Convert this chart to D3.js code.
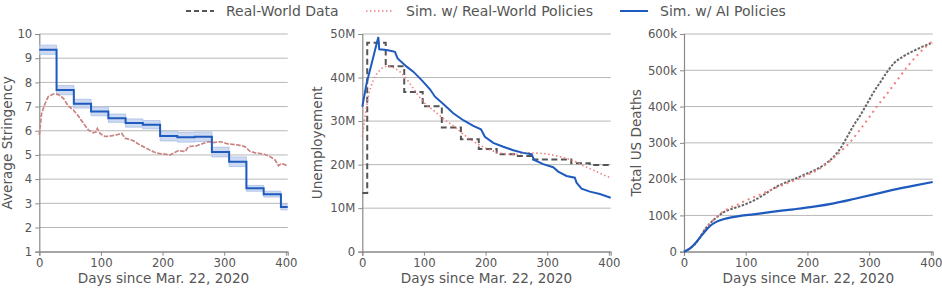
<!DOCTYPE html>
<html><head><meta charset="utf-8">
<script src="https://cdn.jsdelivr.net/npm/d3@7"></script>
<style>body{margin:0;background:#fff}svg{display:block}text{font-family:"DejaVu Sans",sans-serif}</style>
</head><body><svg id="c" width="942" height="288"></svg>
<script>
// ---------- data ----------
const xTicks = [0, 100, 200, 300, 400];
const stringTicks = [1,2,3,4,5,6,7,8,9,10];
const unempTicks = [0,10,20,30,40,50];
const deathTicks = [0,100,200,300,400,500,600];

// Panel 1: AI stringency steps [startDay, value]
const aiStringency = [[0,9.35],[28,7.68],[56,7.12],[84,6.80],[112,6.52],[140,6.32],[168,6.25],[196,5.78],[224,5.73],[252,5.75],[280,5.12],[308,4.72],[336,3.62],[364,3.38],[392,2.85],[403,2.85]];
const aiStringencyBand = [0.19,0.19,0.18,0.18,0.17,0.17,0.17,0.2,0.2,0.2,0.2,0.2,0.12,0.12,0.12,0.12];
const realStringency = [[0,5.83],[3.8,6.72],[9.3,7.13],[14.7,7.41],[22.8,7.52],[30.9,7.50],[39,7.34],[47.1,7.02],[55.2,6.86],[63.4,6.61],[71.5,6.31],[79.6,6.03],[87.7,5.92],[92,5.95],[94.2,6.1],[98.5,5.89],[106.7,5.76],[114.8,5.78],[125.6,5.83],[133.7,5.89],[139.1,5.69],[152.6,5.59],[160.8,5.45],[168.9,5.34],[179.7,5.20],[190.5,5.07],[201.3,5.04],[212.2,5.0],[217.6,5.07],[225.7,5.18],[236.5,5.14],[241.9,5.34],[255.5,5.38],[266.3,5.48],[274.4,5.55],[282.5,5.51],[293.3,5.55],[306.9,5.45],[320.4,5.42],[333.9,5.34],[342.1,5.14],[352.9,5.07],[363.7,5.04],[374.5,4.93],[382.6,4.79],[388,4.56],[393.4,4.65],[401.6,4.56]];

// Panel 2: unemployment (millions)
const realUnemp = [[0,13.5],[8,48.0],[38,42.6],[68,36.7],[98,33.4],[129,28.5],[160,25.8],[189,23.6],[218,22.4],[249,22.0],[277,21.2],[339,20.3],[369,19.9],[403,19.9]];
const simRealUnemp = [[0,26.4],[4.4,31.0],[9.8,35.6],[17.9,39.4],[28.7,41.7],[39.5,42.6],[53,42.1],[66.5,40.6],[82.7,37.5],[99,34.45],[115.2,32.5],[131.4,30.6],[153,28.3],[169.2,26.4],[185.4,24.9],[201.6,23.7],[223.3,22.7],[244.9,22.35],[266.5,22.7],[288.1,22.6],[301.6,22.4],[320.5,21.8],[339.5,21.06],[358.4,19.76],[380,18.4],[398.9,17.2],[403,17.0]];
const aiUnemp = [[0,33.3],[7,38.7],[15.2,43.2],[26,49.3],[27.5,46.5],[39.5,46.3],[53,45.9],[57.3,44.4],[72,42.5],[82.7,41.35],[96.3,39.4],[109.8,37.3],[117.9,35.6],[131.4,33.9],[147.6,31.8],[163.8,30.2],[180,28.9],[192.5,28.1],[198.9,26.4],[212.4,25.0],[228.7,24.1],[244.9,23.3],[261,22.7],[274.6,22.4],[278.9,21.06],[293.5,20.1],[309.7,19.4],[317.8,18.4],[331.3,17.4],[344.8,17.0],[347.6,15.85],[355.7,14.5],[369.2,13.8],[385.4,13.25],[403,12.4]];

// Panel 3: total deaths (thousands)
const realDeaths = [[0,0],[9.7,9],[17.9,21],[26,40],[34.1,62],[42.2,78],[53,95],[63.9,108.6],[80.2,119.6],[96.4,128.8],[112.7,140.7],[129,156.4],[145.2,174.7],[161.5,188.5],[177.7,199.5],[194,211.5],[210.3,223.4],[226.5,239],[242.8,262],[253.6,285],[264.5,317],[275.3,349.3],[286.1,376.8],[297,409],[307.8,441],[318.7,468.7],[329.5,496.3],[340.3,519.3],[356.6,539.5],[372.9,554.2],[389.1,567],[403,576]];
const simRealDeaths = [[0,0],[9.7,9],[17.9,21],[26,40],[34.1,60],[53,96.6],[69.3,116.9],[85.6,128.8],[101.9,142.6],[118.1,153.6],[134.4,165.6],[150.6,177.5],[166.9,188.5],[183.2,199.5],[199.4,211.5],[221.1,229.9],[237.4,251],[253.6,275.8],[269.9,303.3],[280.7,326.3],[297,363],[313.2,401.6],[329.5,436.6],[345.8,473.3],[362,510],[378.3,542.2],[389.1,560.6],[403,581]];
const aiDeaths = [[0,0],[9.7,9],[20.6,27.7],[31.4,50.7],[42.2,70.9],[53,82.9],[69.3,92],[91,98.5],[112.7,103.1],[145.2,110.4],[177.7,116.9],[210.3,124.2],[242.8,133.4],[275.3,145.3],[307.8,158],[340.3,171],[372.9,182],[403,192]];

const legendLabels = ["Real-World Data", "Sim. w/ Real-World Policies", "Sim. w/ AI Policies"];

// ---------- style ----------
const C = {text:"#555", grid:"#b8b8b8", spine:"#8a8a8a", blue:"#1f5bbf", band:"#c4d4ee", bandEdge:"#a9bfe4", red:"#f08080", gray:"#555"};

const svg = d3.select("#c");
const plotTop = 34, plotBottom = 251.7;

const panels = [
  {x0:39.3, x1:287.7, dom:[1,10], ticks:stringTicks, fmt:d=>d, label:"Average Stringency", lx:12},
  {x0:362.3, x1:610.7, dom:[0,50], ticks:unempTicks, fmt:d=>d===0?"0":d+"M", label:"Unemployement", lx:322},
  {x0:684, x1:932.7, dom:[0,600], ticks:deathTicks, fmt:d=>d===0?"0":d+"k", label:"Total US Deaths", lx:641}
];

panels.forEach((p,i)=>{
  p.x = d3.scaleLinear().domain([0,403]).range([p.x0,p.x1]);
  p.y = d3.scaleLinear().domain(p.dom).range([plotBottom,plotTop]);
  const g = svg.append("g");
  g.selectAll("line.grid").data(p.ticks).join("line")
    .attr("x1",p.x0).attr("x2",p.x1).attr("y1",d=>p.y(d)).attr("y2",d=>p.y(d))
    .attr("stroke",C.grid).attr("stroke-width",1);
  const ya = g.append("g").attr("transform",`translate(${p.x0},0)`)
    .call(d3.axisLeft(p.y).tickValues(p.ticks).tickFormat(p.fmt).tickSize(4).tickPadding(3));
  const xa = g.append("g").attr("transform",`translate(0,${plotBottom})`)
    .call(d3.axisBottom(p.x).tickValues(xTicks).tickSize(4).tickPadding(3));
  [ya,xa].forEach(a=>{
    a.select(".domain").attr("stroke",C.spine).attr("stroke-width",1.2);
    a.selectAll(".tick line").attr("stroke",C.spine);
    a.selectAll("text").attr("fill",C.text).style("font-size","11.7px").style("font-family","DejaVu Sans");
  });
  g.append("text").attr("x",(p.x0+p.x1)/2).attr("y",283).attr("text-anchor","middle")
    .attr("fill",C.text).style("font-size","13.6px").text("Days since Mar. 22, 2020");
  g.append("text").attr("transform",`translate(${p.lx},${(plotTop+plotBottom)/2}) rotate(-90)`).attr("text-anchor","middle")
    .attr("fill",C.text).style("font-size","13.6px").text(p.label);
  p.g = g;
});

function line(p, curve){ return d3.line().x(d=>p.x(d[0])).y(d=>p.y(d[1])).curve(curve||d3.curveLinear); }

// Panel 1
{
  const p = panels[0];
  const area = d3.area().x(d=>p.x(d[0])).y0((d,i)=>p.y(d[1]-aiStringencyBand[i])).y1((d,i)=>p.y(d[1]+aiStringencyBand[i])).curve(d3.curveStepAfter);
  p.g.append("path").attr("d",area(aiStringency)).attr("fill",C.band).attr("opacity",0.85);
  const up = d3.line().x(d=>p.x(d[0])).y((d,i)=>p.y(d[1]+aiStringencyBand[i])).curve(d3.curveStepAfter);
  const lo = d3.line().x(d=>p.x(d[0])).y((d,i)=>p.y(d[1]-aiStringencyBand[i])).curve(d3.curveStepAfter);
  p.g.append("path").attr("d",up(aiStringency)).attr("fill","none").attr("stroke",C.bandEdge).attr("stroke-width",0.8);
  p.g.append("path").attr("d",lo(aiStringency)).attr("fill","none").attr("stroke",C.bandEdge).attr("stroke-width",0.8);
  p.g.append("path").attr("d",line(p)(realStringency)).attr("fill","none").attr("stroke","#9a8a8a").attr("stroke-width",1.5).attr("stroke-dasharray","4,2");
  p.g.append("path").attr("d",line(p)(realStringency)).attr("fill","none").attr("stroke",C.red).attr("stroke-width",1.5).attr("stroke-dasharray","1.5,1.5");
  p.g.append("path").attr("d",line(p,d3.curveStepAfter)(aiStringency)).attr("fill","none").attr("stroke",C.blue).attr("stroke-width",2);
}
// Panel 2
{
  const p = panels[1];
  p.g.append("path").attr("d",line(p,d3.curveStepAfter)(realUnemp)).attr("fill","none").attr("stroke",C.gray).attr("stroke-width",2).attr("stroke-dasharray","6,3.5");
  p.g.append("path").attr("d",line(p,d3.curveMonotoneX)(simRealUnemp)).attr("fill","none").attr("stroke",C.red).attr("stroke-width",1.6).attr("stroke-dasharray","1.5,2.5");
  p.g.append("path").attr("d",line(p)(aiUnemp)).attr("fill","none").attr("stroke",C.blue).attr("stroke-width",2);
}
// Panel 3
{
  const p = panels[2];
  p.g.append("path").attr("d",line(p,d3.curveMonotoneX)(realDeaths)).attr("fill","none").attr("stroke","#666").attr("stroke-width",2).attr("stroke-dasharray","2.5,1.5");
  p.g.append("path").attr("d",line(p,d3.curveMonotoneX)(simRealDeaths)).attr("fill","none").attr("stroke",C.red).attr("stroke-width",2).attr("stroke-dasharray","2,4");
  p.g.append("path").attr("d",line(p,d3.curveMonotoneX)(aiDeaths)).attr("fill","none").attr("stroke",C.blue).attr("stroke-width",2.2);
}

// Legend
const leg = [
  {x:186, tx:226, stroke:C.gray, dash:"5,3", w:2},
  {x:366, tx:406, stroke:C.red, dash:"1.5,2.5", w:1.6},
  {x:620, tx:660, stroke:C.blue, dash:null, w:2}
];
leg.forEach((l,i)=>{
  svg.append("line").attr("x1",l.x).attr("x2",l.x+28).attr("y1",11).attr("y2",11)
    .attr("stroke",l.stroke).attr("stroke-width",l.w).attr("stroke-dasharray",l.dash);
  svg.append("text").attr("x",l.tx).attr("y",16).attr("fill",C.text).style("font-size","14px").text(legendLabels[i]);
});
</script></body></html>
